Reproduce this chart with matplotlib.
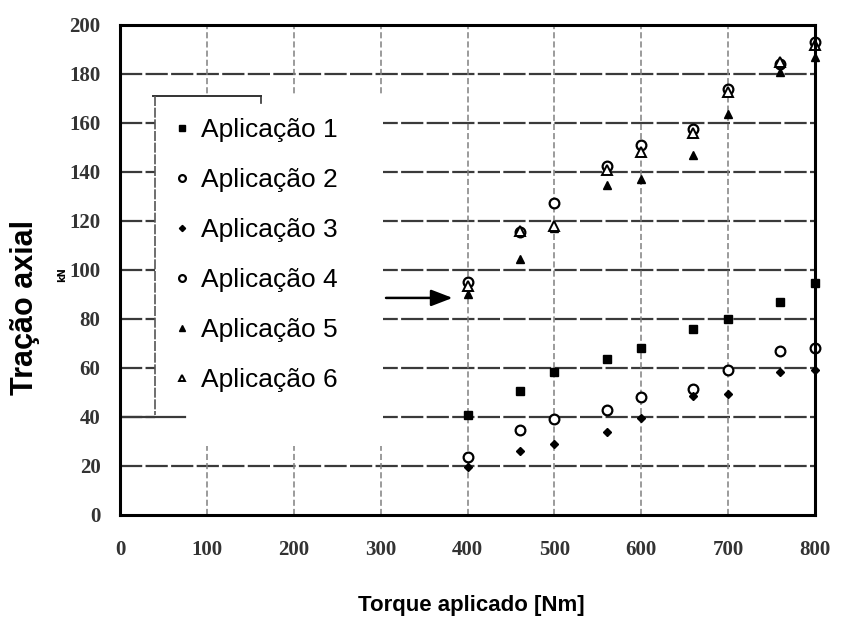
import matplotlib.pyplot as plt
from matplotlib.lines import Line2D
from matplotlib.patches import Rectangle

torque = [400, 460, 500, 560, 600, 660, 700, 760, 800]

aplic1 = [41, 50.5, 58.5, 63.5, 68, 76, 80, 87, 94.5]
aplic2 = [23.5, 34.5, 39, 43, 48, 51.5, 59, 67, 68]
aplic3 = [19.5, 26, 29, 34, 39.5, 48.5, 49.5, 58.5, 59]
aplic4 = [95, 115.5, 127.5, 142.5, 151, 157.5, 174, 184, 193]
aplic5 = [90, 104.5, 117, 134.5, 137, 147, 163.5, 181, 187]
aplic6 = [93.5, 116, 118, 141, 148, 156, 172.5, 185, 192]

labels = ['Aplicação 1', 'Aplicação 2', 'Aplicação 3',
          'Aplicação 4', 'Aplicação 5', 'Aplicação 6']
x_ticks = [0, 100, 200, 300, 400, 500, 600, 700, 800]
y_ticks = [0, 20, 40, 60, 80, 100, 120, 140, 160, 180, 200]

styles = [
    dict(marker='s', mfc='black', mec='black', ms=6),
    dict(marker='o', mfc='white', mec='black', ms=7, mew=1.6),
    dict(marker='D', mfc='black', mec='black', ms=4.5),
    dict(marker='o', mfc='white', mec='black', ms=7, mew=1.6),
    dict(marker='^', mfc='black', mec='black', ms=6),
    dict(marker='^', mfc='white', mec='black', ms=7, mew=1.4),
]

fig = plt.figure(figsize=(8.42, 6.41), dpi=100)
ax = fig.add_axes([0.1425, 0.1966, 0.8255, 0.7644])

ax.set_xlim(0, 800)
ax.set_ylim(0, 200)

# grid lines
for y in y_ticks[1:-1]:
    ax.axhline(y, color='#3a3a3a', lw=1.6, ls=(0, (10, 1.5)), zorder=1)
for x in x_ticks[1:-1]:
    ax.axvline(x, color='#808080', lw=1.1, ls=(0, (4, 2)), zorder=1)

for vals, st in zip([aplic1, aplic2, aplic3, aplic4, aplic5, aplic6], styles):
    ax.plot(torque, vals, ls='none', zorder=4, clip_on=False, **st)

# white legend panel covering part of the grid
ax.add_patch(Rectangle((40, 28), 263, 143, facecolor='white',
                       edgecolor='none', zorder=2))
ax.plot([38, 162], [171, 171], color='#333333', lw=1.4, zorder=3)
ax.plot([162, 162], [171, 168], color='#333333', lw=1.2, zorder=3)
ax.plot([40, 40], [171, 41], color='#555555', lw=1.2, ls=(0, (6, 1)), zorder=3)
ax.plot([0, 75], [40, 40], color='#3a3a3a', lw=1.6, zorder=3)

handles = [Line2D([], [], ls='none', **dict(st, ms=st['ms'] * 0.7))
           for st in styles]
leg = ax.legend(handles, labels, loc='upper left', bbox_to_anchor=(0.065, 0.832),
                frameon=False, prop={'family': 'Liberation Sans', 'size': 19},
                handlelength=0.5, handletextpad=0.45, labelspacing=0.985,
                borderaxespad=0)
leg.set_zorder(5)

# arrow
ax.annotate('', xy=(386, 88.6), xytext=(303, 88.6),
            arrowprops=dict(arrowstyle='-|>,head_length=1.3,head_width=0.5',
                            color='black', lw=1.8), zorder=5)

for side in ['left', 'right', 'top', 'bottom']:
    ax.spines[side].set_linewidth(2.2)
    ax.spines[side].set_zorder(6)

ax.set_xticks(x_ticks)
ax.set_yticks(y_ticks)
ax.tick_params(length=0, labelsize=15)
ax.tick_params(axis='x', pad=18)
ax.tick_params(axis='y', pad=14)
for t in ax.get_xticklabels() + ax.get_yticklabels():
    t.set_fontfamily('Liberation Serif')
    t.set_fontweight('bold')
    t.set_color('#333333')

ax.text(-67, 98, 'kN', rotation=90, fontsize=7, fontweight='bold',
        ha='center', va='center', clip_on=False)

fig.text(0.030, 0.521, 'Tração axial', rotation=90, fontsize=22,
         fontweight='bold', family='Liberation Sans', ha='center', va='center')
fig.text(0.56, 0.055, 'Torque aplicado [Nm]', fontsize=16,
         fontweight='bold', family='Liberation Sans', ha='center', va='center')

plt.savefig('out.png', dpi=100)
